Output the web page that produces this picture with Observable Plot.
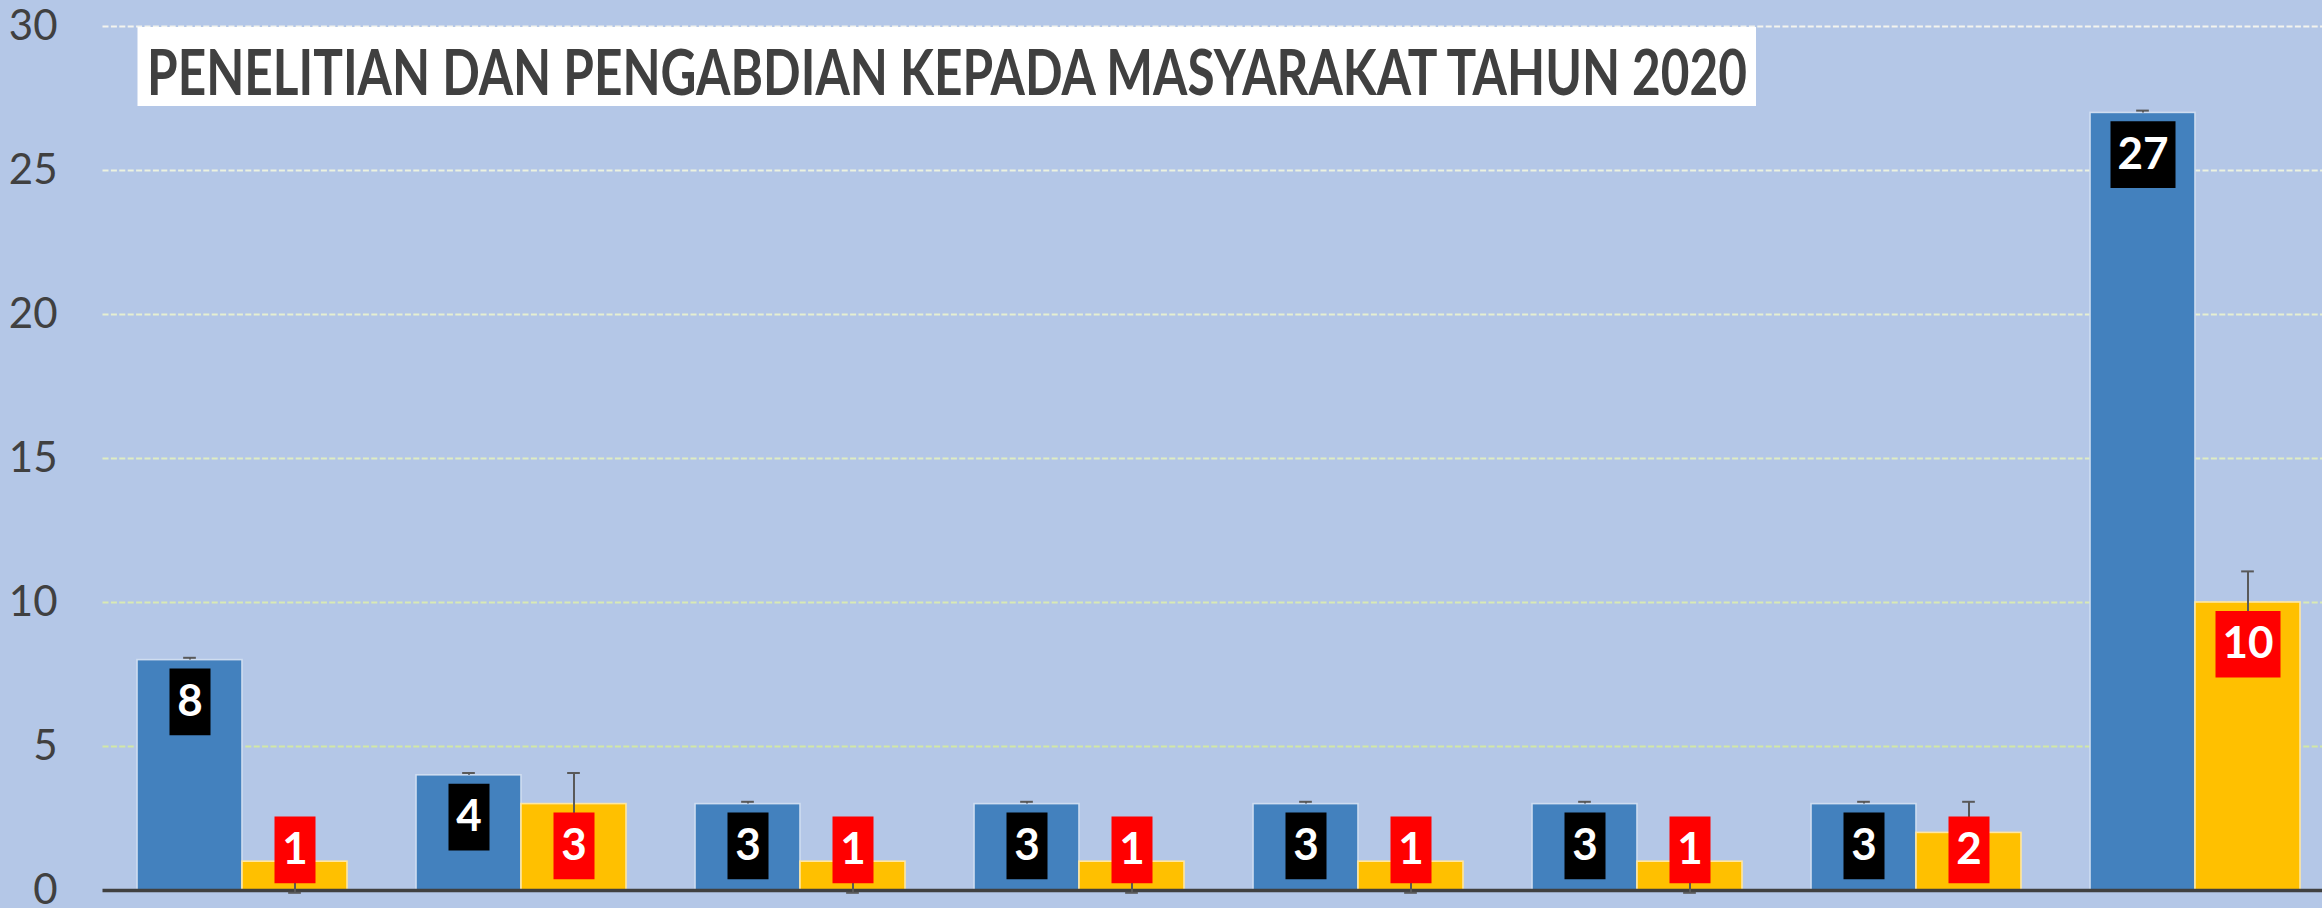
<!DOCTYPE html>
<html>
<head>
<meta charset="utf-8">
<script src="https://cdn.jsdelivr.net/npm/d3@7"></script>
<script src="https://cdn.jsdelivr.net/npm/@observablehq/plot@0.6"></script>
<style>
  html, body { margin: 0; padding: 0; background: #B4C7E7; }
  #chart { width: 2322px; height: 908px; overflow: hidden; }
</style>
</head>
<body>
<div id="chart"></div>
<script>
// ---- data ----
const categories = ["Kategori 1", "Kategori 2", "Kategori 3", "Kategori 4", "Kategori 5", "Kategori 6", "Kategori 7", "Kategori 8"];
const penelitian = [8, 4, 3, 3, 3, 3, 3, 27];
const pengabdian = [1, 3, 1, 1, 1, 1, 2, 10];
const errPenelitian = [0.08, 0.08, 0.08, 0.08, 0.08, 0.08, 0.08, 0.08];
const errPengabdian = [1.08, 1.08, 1.08, 1.08, 1.08, 1.08, 1.08, 1.08];
const yTicks = [0, 5, 10, 15, 20, 25, 30];
const gridTicks = [5, 10, 15, 20, 25, 30];
const title = "PENELITIAN DAN PENGABDIAN KEPADA MASYARAKAT TAHUN 2020";

// ---- layout / style ----
const W = 2322, H = 908;
const ML = 102.5, MT = 26, MB = 18;
const step = 279, bw = 210, half = bw / 2;
const font = "Lato, 'Open Sans', sans-serif";
const blue = "#4381BE", yellow = "#FFC000";
const gridColor = d3.interpolateRgb("#F3F4EE", "#D2E8A6");

const blueRows = categories.map((c, i) => ({category: c, value: penelitian[i], lo: penelitian[i], hi: penelitian[i] + errPenelitian[i], label: String(penelitian[i])}));
const yellowRows = categories.map((c, i) => ({category: c, value: pengabdian[i], lo: pengabdian[i] - errPengabdian[i], hi: pengabdian[i] + errPengabdian[i], label: String(pengabdian[i])}));

const labelFloor = 2.86; // labels never sink below this level (kept inside the plot)
const labelY = d => Math.max(d.value, labelFloor);
const boxDy = 41.75;

const rectSymbol = (w, h) => ({draw(ctx) { ctx.rect(-w / 2, -h / 2, w, h); }});
const box1 = rectSymbol(41, 66.7), box2 = rectSymbol(65, 66.7);

const capW = 12.7;
const offset = half / 2; // bar centre offset from group centre

function labelMarks(rows, dx, fill) {
  return [
    Plot.dot(rows.filter(d => d.label.length < 2), {x: "category", y: labelY, dx, dy: boxDy, r: 10, symbol: box1, fill, stroke: null}),
    Plot.dot(rows.filter(d => d.label.length >= 2), {x: "category", y: labelY, dx, dy: boxDy, r: 10, symbol: box2, fill, stroke: null}),
    Plot.text(rows, {x: "category", y: labelY, dx, dy: boxDy, text: "label", fill: "white", fontWeight: "bold", fontSize: 44, fontFamily: font})
  ];
}

const chart = Plot.plot({
  width: W,
  height: H,
  marginLeft: ML,
  marginRight: 0,
  marginTop: MT,
  marginBottom: MB,
  style: {background: "#B4C7E7", fontFamily: font, color: "#404040"},
  x: {domain: categories, range: [ML, ML + step * categories.length], paddingInner: (step - bw) / step, paddingOuter: (step - bw) / 2 / step, round: false, axis: null},
  y: {domain: [0, 30], axis: null},
  marks: [
    Plot.ruleY(gridTicks, {y: d => d, stroke: d => gridColor((30 - d) / 25), strokeWidth: 2, strokeDasharray: "6,2.4"}),
    Plot.text(yTicks, {y: d => d, text: d => String(d), frameAnchor: "left", textAnchor: "end", dx: -45.5, fontSize: 42, fill: "#404040", fontFamily: font}),
    Plot.barY(blueRows, {x: "category", y: "value", insetRight: half, fill: blue, stroke: "#CFDDF0", strokeWidth: 1.6}),
    Plot.barY(yellowRows, {x: "category", y: "value", insetLeft: half, fill: yellow, stroke: "#FFE7A0", strokeWidth: 1.6}),
    Plot.ruleY([0], {stroke: "#404040", strokeWidth: 3.3}),
    // error bars
    Plot.ruleX(blueRows, {x: "category", y1: "lo", y2: "hi", dx: -offset, stroke: "#595959", strokeWidth: 2}),
    Plot.tickY(blueRows, {x: "category", y: "hi", insetLeft: offset - capW / 2, insetRight: bw - offset - capW / 2, stroke: "#595959", strokeWidth: 2}),
    Plot.ruleX(yellowRows, {x: "category", y1: "lo", y2: "hi", dx: offset, stroke: "#595959", strokeWidth: 2}),
    Plot.tickY(yellowRows, {x: "category", y: "hi", insetLeft: bw - offset - capW / 2, insetRight: offset - capW / 2, stroke: "#595959", strokeWidth: 2}),
    Plot.tickY(yellowRows, {x: "category", y: "lo", insetLeft: bw - offset - capW / 2, insetRight: offset - capW / 2, stroke: "#595959", strokeWidth: 2}),
    // data labels
    ...labelMarks(blueRows, -offset, "black"),
    ...labelMarks(yellowRows, offset, "#FF0000")
  ]
});

// title text box inside the plot area
const svg = d3.select(chart);
const tg = svg.append("g");
tg.append("rect").attr("x", 137.5).attr("y", 27).attr("width", 1618.5).attr("height", 79).attr("fill", "white");
tg.append("text")
  .attr("x", 147).attr("y", 95)
  .attr("text-anchor", "start")
  .attr("font-family", font).attr("font-weight", "bold").attr("font-size", 62.5)
  .attr("fill", "#404040")
  .attr("textLength", 1600).attr("lengthAdjust", "spacingAndGlyphs")
  .text(title);

document.getElementById("chart").appendChild(chart);
</script>
</body>
</html>
